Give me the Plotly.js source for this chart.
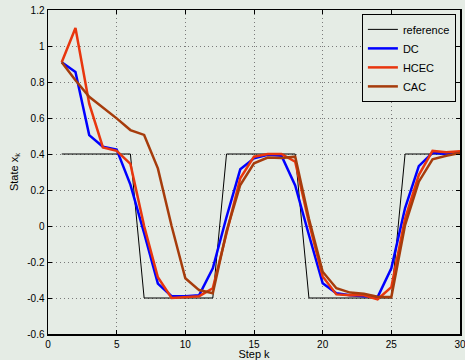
<!DOCTYPE html>
<html>
<head>
<meta charset="utf-8">
<script src="https://cdn.plot.ly/plotly-3.0.1.min.js"></script>
<style>html,body{margin:0;padding:0;background:#e5ece5;}</style>
</head>
<body>
<div id="chart" style="width:465px;height:360px;"></div>
<script>
const steps = [1,2,3,4,5,6,7,8,9,10,11,12,13,14,15,16,17,18,19,20,21,22,23,24,25,26,27,28,29,30];
const reference = [0.4,0.4,0.4,0.4,0.4,0.4,-0.4,-0.4,-0.4,-0.4,-0.4,-0.4,0.4,0.4,0.4,0.4,0.4,0.4,-0.4,-0.4,-0.4,-0.4,-0.4,-0.4,-0.4,0.4,0.4,0.4,0.4,0.4];
const dc = [0.91,0.855,0.505,0.44,0.425,0.23,-0.04,-0.32,-0.39,-0.39,-0.385,-0.235,0.05,0.315,0.376,0.396,0.39,0.225,-0.05,-0.318,-0.374,-0.385,-0.39,-0.395,-0.235,0.1,0.333,0.407,0.40,0.41];
const hcec = [0.91,1.10,0.68,0.437,0.418,0.345,0.0,-0.285,-0.40,-0.395,-0.39,-0.346,-0.04,0.265,0.385,0.40,0.40,0.357,0.02,-0.28,-0.38,-0.385,-0.385,-0.407,-0.34,0.04,0.283,0.417,0.41,0.415];
const cac = [0.91,0.81,0.718,0.66,0.598,0.533,0.506,0.32,0.0,-0.29,-0.356,-0.374,-0.03,0.228,0.348,0.38,0.378,0.385,0.04,-0.254,-0.346,-0.37,-0.376,-0.393,-0.395,0.005,0.246,0.37,0.39,0.405];
const yTickVals = [-0.6,-0.4,-0.2,0,0.2,0.4,0.6,0.8,1,1.2];
const yTickText = ["-0.6","-0.4","-0.2","0","0.2","0.4","0.6","0.8","1","1.2"];
const xTickVals = [0,5,10,15,20,25,30];
const xTickText = ["0","5","10","15","20","25","30"];

const traces = [
  {x: steps, y: reference, name: 'reference', mode: 'lines', line: {color: '#000000', width: 1}},
  {x: steps, y: dc, name: 'DC', mode: 'lines', line: {color: '#0000ff', width: 2.5}},
  {x: steps, y: hcec, name: 'HCEC', mode: 'lines', line: {color: '#e8360e', width: 2.5}},
  {x: steps, y: cac, name: 'CAC', mode: 'lines', line: {color: '#a63c0c', width: 2.5}}
];

const axisCommon = {
  showline: true, mirror: 'ticks', linecolor: '#000', linewidth: 1.5,
  ticks: 'inside', ticklen: 4, tickcolor: '#000', tickwidth: 1,
  showgrid: true, gridcolor: '#7a7a7a', griddash: '1px,3px', gridwidth: 1,
  zeroline: false, ticklabeloverflow: 'allow',
  tickfont: {family: 'Liberation Sans, Arial, sans-serif', size: 10, color: '#000'}
};

const layout = {
  width: 465, height: 360,
  margin: {l: 48, r: 5, t: 10, b: 26},
  paper_bgcolor: '#e5ece5', plot_bgcolor: '#e5ece5',
  font: {family: 'Liberation Sans, Arial, sans-serif', size: 11, color: '#000'},
  xaxis: Object.assign({}, axisCommon, {
    range: [0, 30], tickvals: xTickVals, ticktext: xTickText,
    title: {text: 'Step k', standoff: 1, font: {size: 11}}
  }),
  yaxis: Object.assign({}, axisCommon, {
    range: [-0.6, 1.2], tickvals: yTickVals, ticktext: yTickText,
    title: {text: 'State x<sub>k</sub>', standoff: 6, font: {size: 11}}
  }),
  showlegend: true,
  legend: {
    x: 0.99, y: 0.988, xanchor: 'right', yanchor: 'top',
    bgcolor: '#e5ece5', bordercolor: '#000', borderwidth: 1,
    font: {size: 11}, tracegroupgap: 0, itemwidth: 30
  }
};

Plotly.newPlot('chart', traces, layout, {displayModeBar: false, staticPlot: true});
</script>
</body>
</html>
